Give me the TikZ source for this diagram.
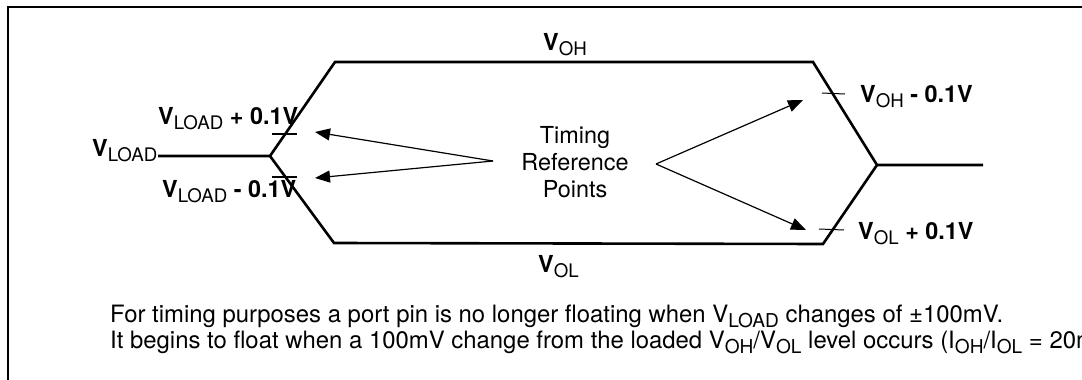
\documentclass[tikz,border=0pt]{standalone}
\usepackage{fontspec}
\setmainfont{TeX Gyre Heros}
\usetikzlibrary{arrows.meta}
\newcommand{\sbs}[1]{\raisebox{-5.5pt}{\fontsize{18.7}{20}\selectfont\mdseries #1}}
\newcommand{\nsbs}[1]{\raisebox{-5.5pt}{\fontsize{19.1}{20}\selectfont\mdseries #1}}
\newcommand{\bV}{\textbf{V}}
\begin{document}
\begin{tikzpicture}[x=1pt,y=-1pt,
  frame/.style={line width=2.6pt},
  wave/.style={line width=2.6pt,line join=miter},
  tickthick/.style={line width=2pt},
  tickthin/.style={line width=1pt},
  ptr/.style={line width=1.2pt,-{Triangle[length=15pt,width=12pt]}},
  lbl/.style={inner sep=0pt,font=\fontsize{23.4}{27}\selectfont},
  note/.style={inner sep=0pt,font=\fontsize{23.9}{27}\selectfont},
]
\useasboundingbox (0,0) rectangle (1082,380);
% frame
\coordinate (fb) at (8,382);
\coordinate (fc) at (8,7);
\coordinate (fr) at (1084,7);
\draw[frame] (fb) -- (fc) -- (fr);
% waveform
\coordinate (L0) at (158,156);
\coordinate (L1) at (270,156);
\coordinate (TL) at (335,62);
\coordinate (TR) at (813,62);
\coordinate (R1) at (877,165);
\coordinate (R0) at (983,165);
\coordinate (BR) at (823,244);
\coordinate (BL) at (334,243);
\draw[wave] (L0) -- (L1) -- (TL) -- (TR) -- (R1) -- (R0);
\draw[wave] (L1) -- (BL) -- (BR) -- (R1);
% ticks
\coordinate (t1a) at (272,134); \coordinate (t1b) at (297,134);
\coordinate (t2a) at (272,177); \coordinate (t2b) at (297,177);
\coordinate (t3a) at (822,93);  \coordinate (t3b) at (845,94);
\coordinate (t4a) at (819,229); \coordinate (t4b) at (844,230);
\draw[tickthick] (t1a) -- (t1b);
\draw[tickthick] (t2a) -- (t2b);
\draw[tickthin] (t3a) -- (t3b);
\draw[tickthin] (t4a) -- (t4b);
% labels
\node[lbl,anchor=base west] (vload) at (92,156) {\bV\sbs{LOAD}};
\node[lbl,anchor=base west] (vlp) at (158,124) {\bV\sbs{LOAD}\textbf{ + 0.1V}};
\node[lbl,anchor=base west] (vlm) at (162,197) {\bV\sbs{LOAD}\textbf{ - 0.1V}};
\node[lbl,anchor=base west] (voh2) at (860,102) {\bV\sbs{OH}\textbf{ - 0.1V}};
\node[lbl,anchor=base west] (vol2) at (858,239) {\bV\sbs{OL}\textbf{ + 0.1V}};
\node[lbl,anchor=base west] (voh) at (543,50) {\bV\sbs{OH}};
\node[lbl,anchor=base west] (vol) at (538,272) {\bV\sbs{OL}};
\node[lbl,align=center,anchor=north] (trp) at (575,126) {Timing\\Reference\\Points};
% arrows
\coordinate (sa) at (493,161);
\coordinate (sb) at (656,164);
\coordinate (a1) at (315,132);
\coordinate (a2) at (315,178);
\coordinate (a3) at (803,100);
\coordinate (a4) at (806,230);
\draw[ptr] (sa) -- (a1);
\draw[ptr] (sa) -- (a2);
\draw[ptr] (sb) -- (a3);
\draw[ptr] (sb) -- (a4);
% note
\node[note,anchor=base west] (note1) at (110,322) {For timing purposes a port pin is no longer floating when V\nsbs{LOAD} changes of ±100mV.};
\node[note,anchor=base west] (note2) at (110,348) {It begins to float when a 100mV change from the loaded V\nsbs{OH}/V\nsbs{OL} level occurs (I\nsbs{OH}/I\nsbs{OL} = 20mA).};
\end{tikzpicture}
\end{document}
